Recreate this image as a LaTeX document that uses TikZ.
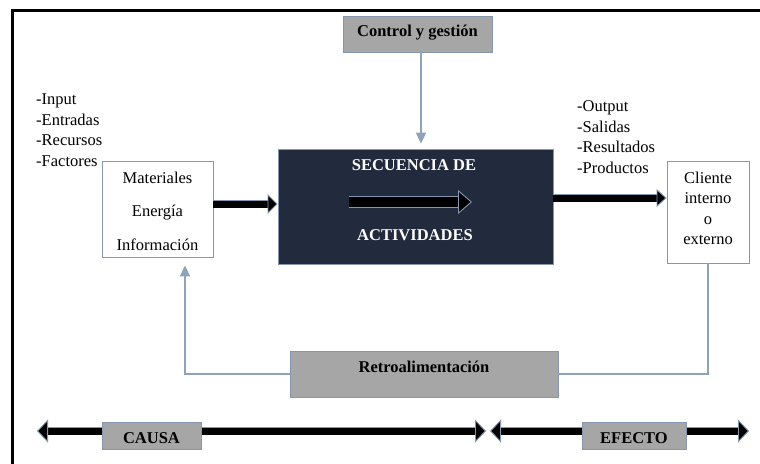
\documentclass[tikz,border=0pt]{standalone}
\usepackage{fontspec}
\setmainfont{Liberation Serif}
\usetikzlibrary{arrows.meta}
\definecolor{navy}{HTML}{222B3E}
\definecolor{boxgray}{HTML}{A6A6A6}
\definecolor{edge}{HTML}{8497B0}
\definecolor{wire}{HTML}{8EA2BA}
\tikzset{
  txt/.style={font=\fontsize{16.5}{20.5}\selectfont, inner sep=0pt, align=left},
  ctr/.style={font=\fontsize{16.5}{20.5}\selectfont, inner sep=0pt, align=center},
  bold/.style={font=\fontsize{16.5}{20.5}\selectfont\bfseries, inner sep=0pt, align=center},
  whitebox/.style={draw=edge, line width=0.9pt, fill=white, inner sep=0pt},
  graybox/.style={draw=edge, line width=0.9pt, fill=boxgray, inner sep=0pt},
  wireline/.style={draw=wire, line width=2pt},
  wiretip/.style={-{Triangle[length=11pt,width=10pt]}, wire},
  % thick block arrows: black shaft with a thin blue-grey rim
  fatR/.style n args={3}{line width=#1, black,
    -{Triangle[length=#3,width=#2,line width=0.9pt,color=edge,fill=black]},
    preaction={draw=edge, line width=#1+1.8pt, -, shorten >=#3-1pt}},
  fatLR/.style n args={3}{line width=#1, black,
    {Triangle[length=#3,width=#2,line width=0.9pt,color=edge,fill=black]}-{Triangle[length=#3,width=#2,line width=0.9pt,color=edge,fill=black]},
    preaction={draw=edge, line width=#1+1.8pt, -, shorten >=#3-1pt, shorten <=#3-1pt}},
}
\begin{document}
\begin{tikzpicture}[x=1pt,y=-1pt]
\useasboundingbox (0,0) rectangle (760,463);
\fill[white] (0,0) rectangle (760,463);
% outer frame
\draw[line width=3pt, black] (12,470) -- (12,10) -- (770,10);

% boxes
\node[graybox, minimum width=149pt, minimum height=36pt] (ctrl) at (417.5,34) {};
\node[bold] (ctrltxt) at (417.5,33) {Control y gestión};

\node[draw=edge, line width=0.9pt, fill=navy, minimum width=275pt, minimum height=115pt] (seq) at (415.5,206.5) {};
\node[bold, text=white] (seqtop) at (414,165) {SECUENCIA DE};
\node[bold, text=white] (seqbot) at (415,235) {ACTIVIDADES};
\coordinate (inA) at (349,202);
\coordinate (inB) at (472,202);
\draw[fatR={9.5pt}{24pt}{14pt}] (inA) -- (inB);

\node[whitebox, minimum width=111pt, minimum height=96pt] (mat) at (157.5,209) {};
\node[ctr, font=\fontsize{16.5}{33.5}\selectfont] (mattxt) at (157.5,211) {Materiales\\Energía\\Información};

\node[whitebox, minimum width=82pt, minimum height=102pt] (cli) at (708,212) {};
\node[ctr] (clitxt) at (708,208.5) {Cliente\\interno\\o\\externo};

\node[graybox, minimum width=268pt, minimum height=46pt] (retro) at (424,374) {};
\node[bold] (retrotxt) at (424,367) {Retroalimentación};

% side lists
\node[txt, anchor=north west] (inlist) at (36,93.5) {-Input\\-Entradas\\-Recursos\\-Factores};
\node[txt, anchor=north west] (outlist) at (577,100.5) {-Output\\-Salidas\\-Resultados\\-Productos};

% flow arrows
\draw[fatR={7pt}{20pt}{10pt}] (mat.east |- 0,204) -- (seq.west |- 0,204);
\draw[fatR={7pt}{18pt}{10pt}] (seq.east |- 0,198) -- (cli.west |- 0,198);
\draw[wireline, wiretip, shorten >=5pt] (ctrl.south -| 421,0) -- (seq.north -| 421,0);

% feedback loop
\draw[wireline] (cli.south -| 708,0) |- (retro.east);
\draw[wireline, wiretip, shorten >=8pt] (retro.west) -| (mat.south -| 185,0);

% cause / effect axis
\coordinate (cL) at (37,431);
\coordinate (cR) at (486,431);
\coordinate (eL) at (490,431);
\coordinate (eR) at (749,431);
\draw[fatLR={7pt}{23pt}{11pt}] (cL) -- (cR);
\draw[fatLR={7pt}{23pt}{11pt}] (eL) -- (eR);
\node[graybox, minimum width=99pt, minimum height=27pt] (causa) at (151.5,435.5) {};
\node[bold] (causatxt) at (151.5,438) {CAUSA};
\node[graybox, minimum width=104pt, minimum height=27pt] (efecto) at (634,435.5) {};
\node[bold] (efectotxt) at (634,438) {EFECTO};
\end{tikzpicture}
\end{document}
